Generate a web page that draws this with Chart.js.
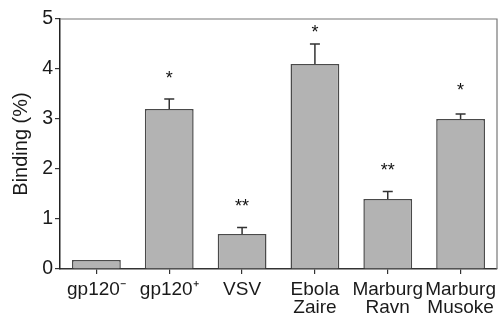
<!DOCTYPE html>
<html>
<head>
<meta charset="utf-8">
<script src="https://cdn.jsdelivr.net/npm/chart.js@4/dist/chart.umd.min.js"></script>
<style>
html,body{margin:0;padding:0;background:#fff;}
#wrap{width:499px;height:321px;}
</style>
</head>
<body>
<div id="wrap"><canvas id="c" width="499" height="321"></canvas></div>
<script>
const categories = ["gp120\u207B", "gp120\u207A", "VSV", ["Ebola","Zaire"], ["Marburg","Ravn"], ["Marburg","Musoke"]];
const binding = [0.18, 3.2, 0.7, 4.1, 1.4, 3.0];
const errorUpper = [0, 0.2, 0.13, 0.4, 0.15, 0.1];
const significance = ["", "*", "**", "*", "**", "*"];
const starLevel = [0, 3.88, 1.32, 4.8, 2.04, 3.64];
const yTicks = [0, 1, 2, 3, 4, 5];

const FONT = "'Liberation Sans', Arial, Helvetica, sans-serif";

const extras = {
  id: 'extras',
  afterDatasetsDraw(chart) {
    const ctx = chart.ctx;
    const meta = chart.getDatasetMeta(0);
    const y = chart.scales.y;
    const ca = chart.chartArea;
    ctx.save();
    // frame top/right
    ctx.strokeStyle = '#777';
    ctx.lineWidth = 1.2;
    ctx.beginPath();
    ctx.moveTo(ca.left, ca.top);
    ctx.lineTo(ca.right, ca.top);
    ctx.lineTo(ca.right, ca.bottom);
    ctx.stroke();
    // error bars
    ctx.strokeStyle = '#333';
    ctx.lineWidth = 1.5;
    meta.data.forEach((bar, i) => {
      const e = errorUpper[i];
      if (e > 0) {
        const top = y.getPixelForValue(binding[i] + e);
        const base = y.getPixelForValue(binding[i]);
        ctx.beginPath();
        ctx.moveTo(bar.x, base);
        ctx.lineTo(bar.x, top);
        ctx.moveTo(bar.x - 5, top);
        ctx.lineTo(bar.x + 5, top);
        ctx.stroke();
      }
      const s = significance[i];
      if (s) {
        const py = y.getPixelForValue(starLevel[i]);
        ctx.fillStyle = '#111';
        ctx.font = '18px ' + FONT;
        ctx.textAlign = 'center';
        ctx.textBaseline = 'middle';
        ctx.fillText(s, bar.x, py + 4);
      }
    });
    ctx.restore();
  }
};

new Chart(document.getElementById('c'), {
  type: 'bar',
  data: {
    labels: categories,
    datasets: [{
      data: binding,
      backgroundColor: '#b3b3b3',
      borderColor: '#4a4a4a',
      borderWidth: 1.5,
      categoryPercentage: 1.0,
      barPercentage: 0.67
    }]
  },
  options: {
    responsive: false,
    animation: false,
    devicePixelRatio: 1,
    layout: { padding: { top: 19, right: 2, left: 0, bottom: 0 } },
    plugins: { legend: { display: false }, tooltip: { enabled: false } },
    scales: {
      x: {
        grid: { display: true, drawOnChartArea: false, drawTicks: true, tickLength: 5, offset: false, color: '#333', lineWidth: 1.2 },
        border: { display: true, color: '#333', width: 1.5 },
        ticks: { color: '#1a1a1a', font: { size: 19, family: FONT, lineHeight: 0.95 }, padding: 7, maxRotation: 0, autoSkip: false },
        afterFit(s) { s.height = 52; s.paddingLeft = 0; s.paddingRight = 0; }
      },
      y: {
        min: 0, max: 5,
        afterBuildTicks(s) { s.ticks = yTicks.map(v => ({ value: v })); },
        grid: { display: true, drawOnChartArea: false, drawTicks: true, tickLength: 5, color: '#333', lineWidth: 1.2 },
        border: { display: true, color: '#222', width: 1.5 },
        ticks: { color: '#1a1a1a', font: { size: 19.5, family: FONT }, padding: 2 },
        title: { display: true, text: 'Binding (%)', color: '#1a1a1a', font: { size: 20, family: FONT, lineHeight: 1 }, padding: { top: 11, bottom: 0 } },
        afterFit(s) { s.width = 60; s.paddingTop = 0; s.paddingBottom = 0; }
      }
    }
  },
  plugins: [extras]
});
</script>
</body>
</html>
